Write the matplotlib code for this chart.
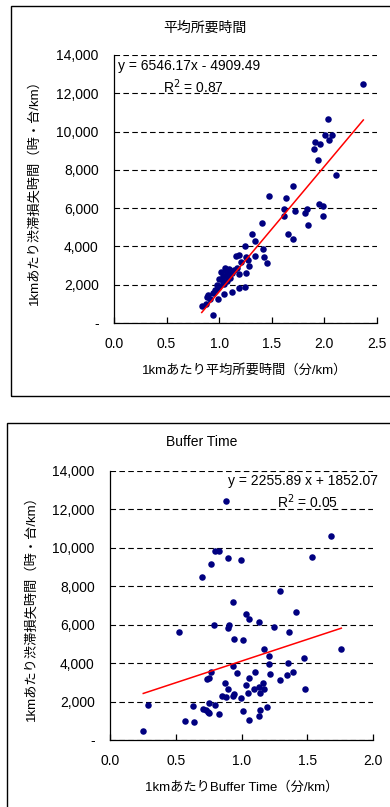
import numpy as np
import matplotlib
matplotlib.use("Agg")
import matplotlib.pyplot as plt
from matplotlib.patches import Rectangle
from matplotlib.ticker import FuncFormatter

plt.rcParams['font.family'] = ['Liberation Sans', 'Noto Sans CJK JP', 'DejaVu Sans']

# 1kmあたり平均所要時間 vs 渋滞損失時間
time_x = [2.37, 2.03, 2.01, 2.07, 2.04, 1.91, 1.96, 1.90, 1.94, 2.11, 1.70, 1.47,
          1.635, 1.613, 1.613, 1.72, 1.816, 1.835, 1.95, 1.987, 1.987, 1.847, 1.404,
          1.657, 1.699, 1.309, 1.34, 1.242, 1.413, 1.423, 1.454, 1.16, 1.19, 1.255,
          1.34, 1.274, 1.204, 1.286, 1.138, 1.169, 1.19, 1.255, 1.055, 1.014, 1.039,
          1.071, 1.001, 1.039, 1.19, 1.242, 1.118, 0.992, 0.96, 0.944, 1.046, 0.992,
          0.897, 0.881, 0.913, 0.834, 0.875, 0.938, 1.06, 1.08, 1.10, 1.03, 1.07,
          1.05, 0.98, 1.09, 1.12, 1.00]
time_y = [12465, 10650, 9830, 9830, 9540, 9435, 9365, 9085, 8495, 7730, 7155, 6630,
          6525, 5955, 5590, 5830, 5760, 5935, 6230, 6125, 5605, 5135, 5240,
          4665, 4370, 4665, 4265, 4020, 3845, 3445, 3150, 3515, 3570, 3445,
          3515, 3270, 3205, 2995, 2770, 2855, 2560, 2595, 2875, 2645, 2470,
          2470, 2280, 2160, 1810, 1865, 1635, 1810, 1725, 1585, 1515, 1235,
          1480, 1340, 1235, 905, 990, 420, 2700, 2560, 2350, 2300, 2200,
          2050, 2000, 2800, 2620, 1950]

# 1kmあたりBuffer Time vs 渋滞損失時間
buffer_x = [0.882, 1.683, 0.798, 0.831, 1.539, 0.765, 0.90, 0.993, 0.70, 1.295, 0.933,
            1.414, 1.034, 1.059, 1.135, 0.791, 0.907, 0.90, 1.245, 0.522, 1.364, 0.943,
            1.009, 1.169, 1.759, 1.211, 0.933, 1.211, 1.356, 1.473, 0.765, 0.966, 1.103,
            1.219, 1.389, 1.346, 0.738, 0.755, 1.059, 1.295, 1.034, 1.161, 0.875, 0.90,
            1.052, 1.093, 1.135, 1.169, 1.143, 1.483, 0.849, 0.882, 0.933, 0.943, 0.993,
            0.631, 0.286, 0.705, 0.73, 0.747, 0.755, 0.755, 0.798, 0.831, 1.009, 1.143,
            1.194, 1.135, 1.059, 0.573, 0.639, 0.253]
buffer_y = [12455, 10635, 9835, 9835, 9540, 9140, 9490, 9365, 8500, 7755, 7200,
            6660, 6555, 6280, 6160, 5985, 5985, 5810, 5865, 5640, 5640, 5240,
            5190, 4720, 4720, 4370, 3870, 3955, 4025, 4250, 3555, 3505, 3555,
            3450, 3555, 3385, 3155, 3210, 3210, 3105, 2860, 2985, 2950, 2635,
            2465, 2635, 2740, 2635, 2465, 2635, 2290, 2240, 2290, 2410, 2170,
            1785, 1840, 1615, 1560, 1475, 1390, 1910, 1840, 1335, 1510, 1560,
            1715, 1265, 1040, 990, 920, 470]

# trendline coefficients
time_slope, time_icpt, time_r2 = 6546.17, -4909.49, 0.87
buf_slope, buf_icpt, buf_r2 = 2255.89, 1852.07, 0.05

y_ticks = [0, 2000, 4000, 6000, 8000, 10000, 12000, 14000]
ylab = '1kmあたり渋滞損失時間（時・台/km）'

NAVY = '#000080'


def yfmt(v, pos):
    if v == 0:
        return '-'
    return '{:,.0f}'.format(v)


def setup(ax, xmax, xstep):
    ax.set_xlim(0, xmax)
    ax.set_ylim(0, 14000)
    ax.set_yticks(y_ticks)
    ax.yaxis.set_major_formatter(FuncFormatter(yfmt))
    ax.set_xticks(np.arange(0, xmax + 0.01, xstep))
    ax.xaxis.set_major_formatter(FuncFormatter(lambda v, p: '{:.1f}'.format(v)))
    for s in ['top', 'right']:
        ax.spines[s].set_visible(False)
    for s in ['left', 'bottom']:
        ax.spines[s].set_color('black')
        ax.spines[s].set_linewidth(0.9)
    ax.tick_params(axis='x', direction='in', length=4, width=0.9, pad=10, labelsize=10)
    ax.tick_params(axis='y', length=0, pad=11, labelsize=10)
    ax.grid(axis='y', color='black', linewidth=0.8, linestyle=(0, (5, 3)))
    ax.set_axisbelow(True)
    ax.patch.set_alpha(0)


fig = plt.figure(figsize=(3.9, 8.07), dpi=100)

# panel frames
fig.patches.append(Rectangle((11 / 390, 1 - 396 / 807), 1.0, 390 / 807,
                             transform=fig.transFigure, fill=False,
                             edgecolor='black', linewidth=1.0))
fig.patches.append(Rectangle((7 / 390, -0.1), 1.0, 1 - 423 / 807 + 0.1,
                             transform=fig.transFigure, fill=False,
                             edgecolor='black', linewidth=1.0))

# top panel
ax1 = fig.add_axes([114 / 390, 1 - 323 / 807, 263 / 390, 268 / 807])
setup(ax1, 2.5, 0.5)
ax1.scatter(time_x, time_y, s=22, color=NAVY, zorder=3, linewidths=0)
xs = np.array([min(time_x), max(time_x)])
ax1.plot(xs, time_slope * xs + time_icpt, color='red', linewidth=1.1, zorder=4)
ax1.text(0.04, 13420, 'y = {:.2f}x - {:.2f}'.format(time_slope, -time_icpt),
         fontsize=10, va='center', ha='left')
ax1.text(0.47, 12330, 'R$^2$ = {:.2f}'.format(time_r2), fontsize=10,
         va='center', ha='left')
fig.text(205 / 390, 1 - 28 / 807, '平均所要時間', fontsize=10, ha='center', va='center')
fig.text(245 / 390, 1 - 370 / 807, '1kmあたり平均所要時間（分/km）', fontsize=9.5,
         ha='center', va='center')
fig.text(34 / 390, 1 - 189 / 807, ylab, fontsize=9.5, rotation=90,
         ha='center', va='center')

# bottom panel
ax2 = fig.add_axes([110 / 390, 1 - 740 / 807, 263 / 390, 269 / 807])
setup(ax2, 2.0, 0.5)
ax2.scatter(buffer_x, buffer_y, s=22, color=NAVY, zorder=3, linewidths=0)
xs = np.array([min(buffer_x), max(buffer_x)])
ax2.plot(xs, buf_slope * xs + buf_icpt, color='red', linewidth=1.1, zorder=4)
ax2.text(0.90, 13480, 'y = {:.2f} x + {:.2f}'.format(buf_slope, buf_icpt),
         fontsize=10, va='center', ha='left')
ax2.text(1.27, 12390, 'R$^2$ = {:.2f}'.format(buf_r2), fontsize=10,
         va='center', ha='left')
fig.text(202 / 390, 1 - 442 / 807, 'Buffer Time', fontsize=10, ha='center', va='center')
fig.text(242 / 390, 1 - 787 / 807, '1kmあたりBuffer Time（分/km）', fontsize=9.5,
         ha='center', va='center')
fig.text(31 / 390, 1 - 605 / 807, ylab, fontsize=9.5, rotation=90,
         ha='center', va='center')

fig.savefig('out.png', dpi=100)
